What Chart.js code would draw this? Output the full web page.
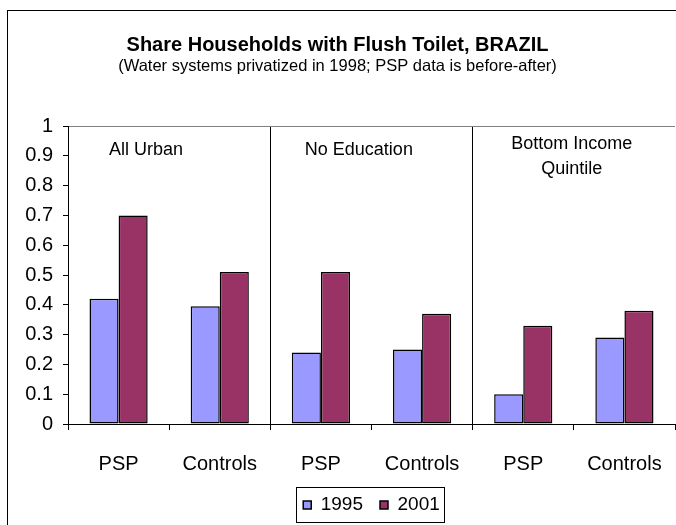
<!DOCTYPE html>
<html>
<head>
<meta charset="utf-8">
<title>Share Households with Flush Toilet, BRAZIL</title>
<script src="https://cdn.jsdelivr.net/npm/chart.js@4/dist/chart.umd.min.js"></script>
<style>
    html, body { margin: 0; padding: 0; background: #fff; }
    canvas { display: block; }
</style>
</head>
<body>
<canvas id="toilet-chart" width="676" height="525"></canvas>
<script>
const categories = ['PSP', 'Controls', 'PSP', 'Controls', 'PSP', 'Controls'];
const groupNames = [['All Urban'], ['No Education'], ['Bottom Income', 'Quintile']];
const seriesNames = ['1995', '2001'];
const values1995 = [0.42, 0.395, 0.24, 0.25, 0.10, 0.29];
const values2001 = [0.70, 0.51, 0.51, 0.37, 0.33, 0.38];

const fontFamily = "'Liberation Sans', Arial, sans-serif";

// white page with the frame round the whole chart
const framePlugin = {
    id: 'frame',
    beforeDraw (chart) {
        const ctx = chart.ctx;
        ctx.save();
        ctx.fillStyle = '#fff';
        ctx.fillRect(0, 0, chart.width, chart.height);
        ctx.strokeStyle = '#000';
        ctx.lineWidth = 1;
        ctx.strokeRect(7.5, 10.5, chart.width + 20, chart.height + 20);
        ctx.restore();
    }
};

// group names written inside each pair of categories
const groupLabelPlugin = {
    id: 'groupLabels',
    afterDatasetsDraw (chart) {
        const ctx = chart.ctx;
        const x = chart.scales.x;
        const top = chart.chartArea.top;
        const shifts = [0.27, 0.375, 0.48];
        const step = x.getPixelForValue(1) - x.getPixelForValue(0);
        ctx.save();
        ctx.font = '18px ' + fontFamily;
        ctx.fillStyle = '#000';
        ctx.textAlign = 'center';
        ctx.textBaseline = 'middle';
        groupNames.forEach((lines, g) => {
            const cx = x.getPixelForValue(g * 2) + shifts[g] * step;
            const startY = lines.length > 1 ? top + 18 : top + 24;
            lines.forEach((line, i) => {
                ctx.fillText(line, cx, startY + i * 25);
            });
        });
        ctx.restore();
    }
};

// box round the legend
const legendBoxPlugin = {
    id: 'legendBox',
    afterDraw (chart) {
        const boxes = chart.legend.legendHitBoxes;
        if (!boxes || !boxes.length) return;
        const first = boxes[0];
        const last = boxes[boxes.length - 1];
        const left = Math.round(first.left - 7) + 0.5;
        const right = Math.round(last.left + last.width + 4) + 0.5;
        const midY = first.top + first.height / 2;
        const top = Math.round(midY - 18) + 0.5;
        const ctx = chart.ctx;
        ctx.save();
        ctx.strokeStyle = '#000';
        ctx.lineWidth = 1;
        ctx.strokeRect(left, top, right - left, 35);
        ctx.restore();
    }
};

const dataBar = {
    type: 'bar',
    data: {
        labels: categories,
        datasets: [{
            label: seriesNames[0],
            data: values1995,
            backgroundColor: '#9999ff',
            borderColor: '#000',
            borderWidth: 1.5,
            borderSkipped: false
        },
        {
            label: seriesNames[1],
            data: values2001,
            backgroundColor: '#993366',
            borderColor: '#000',
            borderWidth: 1.5,
            borderSkipped: false
        }]
    },
    options: {
        responsive: false,
        animation: false,
        devicePixelRatio: 1,
        datasets: {
            bar: { categoryPercentage: 0.575, barPercentage: 1 }
        },
        layout: {
            padding: { top: 10, left: 0, right: 1, bottom: 0.5 }
        },
        plugins: {
            title: {
                display: true,
                text: 'Share Households with Flush Toilet, BRAZIL',
                color: '#000',
                font: { family: fontFamily, size: 20, weight: 'bold' },
                padding: { top: 23, bottom: 0 }
            },
            subtitle: {
                display: true,
                text: '(Water systems privatized in 1998; PSP data is before-after)',
                color: '#000',
                font: { family: fontFamily, size: 16.5 },
                padding: { top: 0, bottom: 49.2 }
            },
            legend: {
                position: 'bottom',
                fullSize: false,
                labels: {
                    color: '#000',
                    font: { family: fontFamily, size: 19 },
                    boxWidth: 8,
                    boxHeight: 8,
                    padding: 17
                }
            },
            tooltip: { enabled: false }
        },
        scales: {
            x: {
                afterFit (scale) {
                    scale.height = 54.5;
                    scale.paddingLeft = 0;
                    scale.paddingRight = 0;
                },
                grid: {
                    offset: true,
                    drawOnChartArea: true,
                    color (ctx) {
                        if (ctx.index === 2 || ctx.index === 4) return '#000';
                        if (ctx.index === categories.length) return '#808080';
                        return 'rgba(0,0,0,0)';
                    },
                    tickColor: '#000',
                    tickLength: 6
                },
                border: { display: true, color: '#000' },
                ticks: {
                    color: '#000',
                    font: { family: fontFamily, size: 20 },
                    padding: 22,
                    maxRotation: 0
                }
            },
            y: {
                min: 0,
                max: 1,
                afterFit (scale) { scale.width = 68; },
                grid: {
                    drawOnChartArea: true,
                    color (ctx) {
                        return ctx.tick && ctx.tick.value === 1 ? '#808080' : 'rgba(0,0,0,0)';
                    },
                    tickColor: '#000',
                    tickLength: 5
                },
                border: { display: true, color: '#000' },
                ticks: {
                    stepSize: 0.1,
                    color: '#000',
                    font: { family: fontFamily, size: 20 },
                    padding: 10,
                    callback: (value) => String(Number(value.toFixed(1)))
                }
            }
        }
    },
    plugins: [framePlugin, groupLabelPlugin, legendBoxPlugin]
};

new Chart(document.getElementById('toilet-chart'), dataBar);
</script>
</body>
</html>
